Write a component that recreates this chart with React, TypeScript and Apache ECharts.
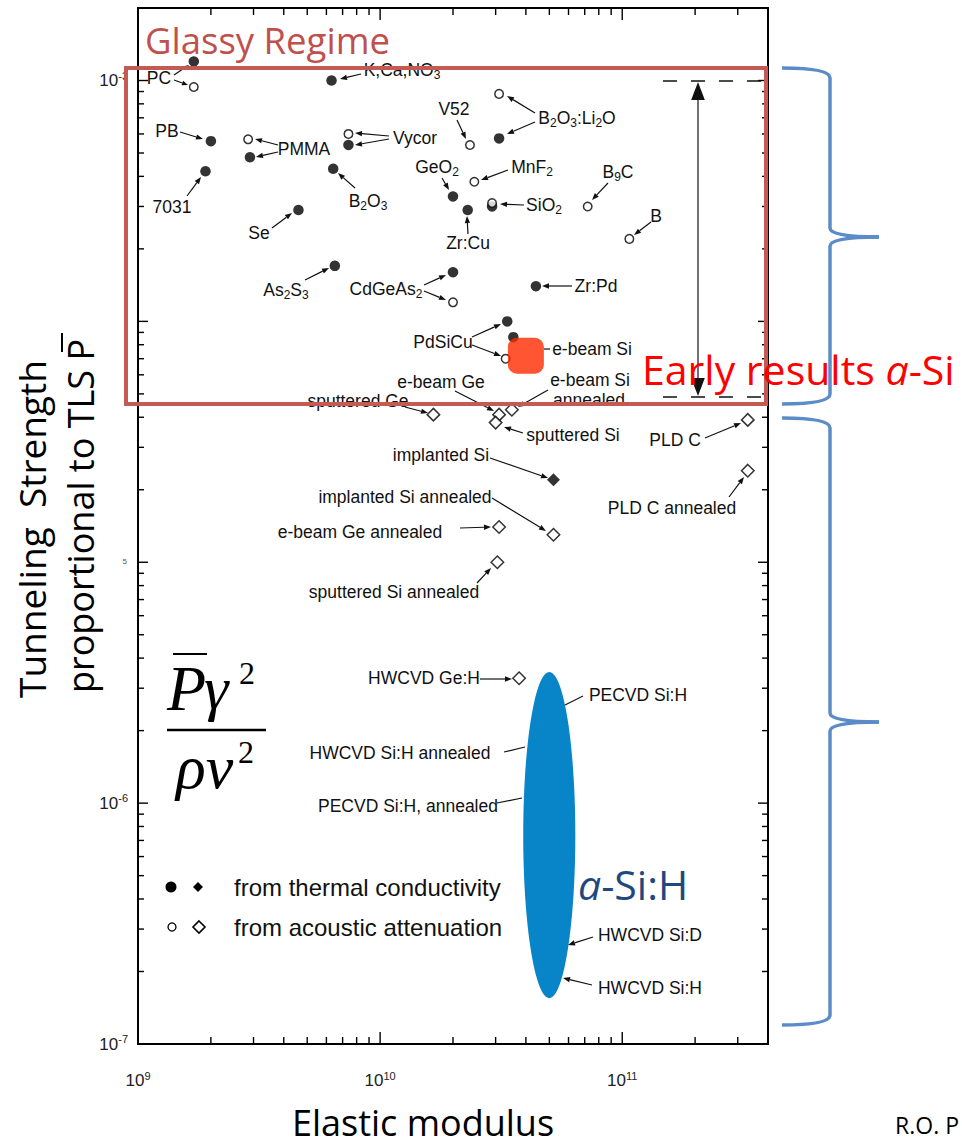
import React, { useEffect, useRef } from "react";
import * as echarts from "echarts";

// ---------------- data (elastic modulus [Pa], tunneling strength) ----------------
const thermalCircles: [number, number][] = [
  [1.7e9, 1.2e-3], // PC
  [6.3e9, 1.0e-3], // K,Ca,NO3
  [2.0e9, 5.6e-4], // PB
  [2.9e9, 4.8e-4], // PMMA
  [1.9e9, 4.2e-4], // 7031
  [7.4e9, 5.4e-4], // Vycor
  [6.4e9, 4.3e-4], // B2O3
  [4.6e9, 2.9e-4], // Se
  [3.1e10, 5.75e-4], // B2O3:Li2O
  [2.0e10, 3.3e-4], // GeO2
  [2.3e10, 2.9e-4], // Zr:Cu
  [2.9e10, 3.0e-4], // SiO2
  [4.4e10, 1.4e-4], // Zr:Pd
  [2.0e10, 1.6e-4], // CdGeAs2
  [6.5e9, 1.7e-4], // As2S3
  [3.35e10, 1.0e-4], // PdSiCu
  [3.55e10, 8.6e-5], // e-beam Si
];
const acousticCircles: [number, number][] = [
  [1.7e9, 9.4e-4], // PC
  [2.85e9, 5.7e-4], // PMMA
  [7.4e9, 6.0e-4], // Vycor
  [3.1e10, 8.8e-4], // B2O3:Li2O
  [2.35e10, 5.4e-4], // V52
  [2.45e10, 3.8e-4], // MnF2
  [2.9e10, 3.1e-4], // SiO2
  [7.2e10, 3.0e-4], // B9C
  [1.07e11, 2.2e-4], // B
  [2.0e10, 1.2e-4], // CdGeAs2
  [3.3e10, 7.0e-5], // PdSiCu
];
const thermalDiamonds: [number, number][] = [
  [5.2e10, 2.2e-5], // implanted Si
];
const acousticDiamonds: [number, number][] = [
  [1.66e10, 4.1e-5], // sputtered Ge
  [3.1e10, 4.1e-5], // e-beam Ge
  [3.5e10, 4.3e-5], // e-beam Si annealed
  [3.0e10, 3.8e-5], // sputtered Si
  [3.3e11, 3.9e-5], // PLD C
  [3.3e11, 2.4e-5], // PLD C annealed
  [5.2e10, 1.3e-5], // implanted Si annealed
  [3.1e10, 1.4e-5], // e-beam Ge annealed
  [3.05e10, 1.0e-5], // sputtered Si annealed
  [3.75e10, 3.3e-6], // HWCVD Ge:H
];
const earlyASi: [number, number][] = [[4.0e10, 7.2e-5]];
// a-Si:H region: [xMin, xMax, yMin, yMax]
const aSiHRegion: [number, number, number, number][] = [[3.9e10, 6.4e10, 1.55e-7, 3.5e-6]];

const X_MIN = 1e9;
const X_MAX = 4e11;
const Y_MIN = 1e-7;
const Y_MAX = 2e-3;
const xDecades = [1e9, 1e10, 1e11];
const yDecades = [1e-7, 1e-6, 1e-5, 1e-4, 1e-3];
const minorSteps = [2, 3, 4, 5, 6, 7, 8, 9];
const yLabelExponents = [-3, -6, -7];
const xLabelExponents = [9, 10, 11];

// ---------------- annotation layout (pixels) ----------------
const SANS = '"Liberation Sans", Arial, Helvetica, sans-serif';
const SLIDE = '"Open Sans", Lato, sans-serif';
const SERIF = '"Liberation Serif", "Times New Roman", serif';
const LABEL_SIZE = 17.5;

type Lab = { t: string; x: number; y: number };
const pointLabels: Lab[] = [
  { t: "PC", x: 159, y: 78 },
  { t: "K,Ca,NO{s|3}", x: 402, y: 70 },
  { t: "PB", x: 167, y: 131 },
  { t: "PMMA", x: 304, y: 149 },
  { t: "7031", x: 172, y: 207 },
  { t: "Vycor", x: 415, y: 138 },
  { t: "B{s|2}O{s|3}", x: 368, y: 201 },
  { t: "Se", x: 259, y: 233 },
  { t: "V52", x: 454, y: 109 },
  { t: "B{s|2}O{s|3}:Li{s|2}O", x: 577, y: 118 },
  { t: "GeO{s|2}", x: 437, y: 167 },
  { t: "MnF{s|2}", x: 532, y: 167 },
  { t: "SiO{s|2}", x: 544, y: 205 },
  { t: "B{s|9}C", x: 618, y: 172 },
  { t: "Zr:Cu", x: 468, y: 243 },
  { t: "B", x: 656, y: 216 },
  { t: "Zr:Pd", x: 596, y: 286 },
  { t: "CdGeAs{s|2}", x: 386, y: 289 },
  { t: "As{s|2}S{s|3}", x: 286, y: 290 },
  { t: "PdSiCu", x: 443, y: 342 },
  { t: "e-beam Si", x: 592, y: 349 },
  { t: "e-beam Ge", x: 441, y: 382 },
  { t: "e-beam Si", x: 590, y: 380 },
  { t: "annealed", x: 589, y: 400 },
  { t: "sputtered Ge", x: 358, y: 401 },
  { t: "sputtered Si", x: 573, y: 435 },
  { t: "PLD C", x: 675, y: 440 },
  { t: "PLD C annealed", x: 672, y: 508 },
  { t: "implanted Si", x: 441, y: 455 },
  { t: "implanted Si annealed", x: 405, y: 497 },
  { t: "e-beam Ge annealed", x: 360, y: 532 },
  { t: "sputtered Si annealed", x: 394, y: 592 },
  { t: "HWCVD Ge:H", x: 424, y: 678 },
  { t: "PECVD Si:H", x: 638, y: 695 },
  { t: "HWCVD Si:H annealed", x: 400, y: 753 },
  { t: "PECVD Si:H, annealed", x: 408, y: 806 },
  { t: "HWCVD Si:D", x: 650, y: 935 },
  { t: "HWCVD Si:H", x: 650, y: 988 },
];
// [x1, y1, x2, y2, headLength]
const pointerLines: number[][] = [
  [174, 80, 188, 85, 6], [174, 75, 189, 65, 6],
  [361, 74, 340, 79, 7],
  [180, 132, 203, 139, 7],
  [278, 145, 255, 139, 7], [278, 152, 256, 157, 7],
  [187, 196, 201, 177, 7],
  [389, 136, 355, 133, 7], [389, 139, 355, 145, 7],
  [355, 188, 338, 173, 7],
  [272, 228, 292, 213, 7],
  [457, 120, 466, 139, 7],
  [535, 113, 507, 96, 7], [535, 122, 507, 134, 7],
  [442, 178, 449, 190, 7],
  [508, 170, 481, 180, 7],
  [524, 205, 500, 204, 7],
  [608, 183, 592, 200, 7],
  [468, 234, 467, 216, 7],
  [651, 222, 634, 235, 7],
  [572, 286, 542, 286, 7],
  [424, 285, 446, 275, 7], [424, 291, 446, 300, 7],
  [305, 280, 329, 268, 7],
  [472, 337, 501, 324, 7], [472, 345, 501, 356, 7],
  [544, 349, 550, 349, 0],
  [455, 391, 494, 411, 7],
  [548, 390, 518, 407, 7],
  [405, 407, 428, 413, 7],
  [523, 433, 504, 427, 7],
  [705, 438, 741, 423, 7],
  [729, 497, 744, 477, 7],
  [490, 458, 548, 478, 7],
  [492, 498, 546, 531, 7],
  [460, 528, 491, 527, 7],
  [477, 583, 491, 568, 7],
  [480, 679, 512, 679, 7],
  [583, 696, 565, 705, 0],
  [504, 752, 525, 747, 0],
  [497, 803, 522, 798, 0],
  [593, 937, 568, 945, 7],
  [592, 985, 563, 978, 7],
];

function arrowEls(x1: number, y1: number, x2: number, y2: number, head: number, color = "#111", lw = 1.2) {
  const ang = Math.atan2(y2 - y1, x2 - x1);
  if (!head) {
    return [{ type: "line", z: 50, shape: { x1, y1, x2, y2 }, style: { stroke: color, lineWidth: lw } }];
  }
  const hx = x2 - head * Math.cos(ang);
  const hy = y2 - head * Math.sin(ang);
  const w = head * 0.38;
  const px = -Math.sin(ang) * w;
  const py = Math.cos(ang) * w;
  return [
    { type: "line", z: 50, shape: { x1, y1, x2: hx, y2: hy }, style: { stroke: color, lineWidth: lw } },
    { type: "polygon", z: 50, shape: { points: [[x2, y2], [hx + px, hy + py], [hx - px, hy - py]] }, style: { fill: color } },
  ];
}

function txt(text: string, x: number, y: number, o: any = {}) {
  const align = o.align || "center";
  const va = o.va || "middle";
  const style: any = {
    text,
    fill: o.fill || "#111",
    fontSize: o.fontSize || LABEL_SIZE,
    fontFamily: o.fontFamily || SANS,
    fontStyle: o.fontStyle || "normal",
    align,
    verticalAlign: va,
    textAlign: align,
    textVerticalAlign: va,
    rich: o.rich,
  };
  if (o.lineHeight) style.lineHeight = o.lineHeight;
  return { type: "text", z: o.z ?? 60, x, y, rotation: o.rotation || 0, style };
}

function braceEls(top: number, tip: number, bottom: number) {
  const xl = 782;
  const xv = 830;
  const xt = 879;
  const st = { stroke: "#5b8cc8", lineWidth: 3.5, fill: "none" };
  return [
    { type: "bezierCurve", z: 70, shape: { x1: xl, y1: top, cpx1: xv, cpy1: top, x2: xv, y2: top + 10 }, style: st },
    { type: "line", z: 70, shape: { x1: xv, y1: top + 10, x2: xv, y2: tip - 9 }, style: st },
    { type: "bezierCurve", z: 70, shape: { x1: xv, y1: tip - 9, cpx1: xv, cpy1: tip, x2: xt, y2: tip }, style: st },
    { type: "bezierCurve", z: 70, shape: { x1: xt, y1: tip, cpx1: xv, cpy1: tip, x2: xv, y2: tip + 9 }, style: st },
    { type: "line", z: 70, shape: { x1: xv, y1: tip + 9, x2: xv, y2: bottom - 10 }, style: st },
    { type: "bezierCurve", z: 70, shape: { x1: xv, y1: bottom - 10, cpx1: xv, cpy1: bottom, x2: xl, y2: bottom }, style: st },
  ];
}

const subRich = {
  s: { fontSize: 12, fontFamily: SANS, fill: "#111", padding: [10, 0, 0, 0] },
};

export default function App() {
  const ref = useRef<HTMLDivElement>(null);

  useEffect(() => {
    if (!ref.current) return;
    const chart = echarts.init(ref.current, null, { renderer: "svg" });

    const tickData: number[][] = [];
    xDecades.forEach((d) => {
      tickData.push([d, Y_MIN, 0]);
      minorSteps.forEach((m) => {
        if (d * m < X_MAX * 0.999) tickData.push([d * m, Y_MIN, 1]);
      });
    });
    yDecades.forEach((d) => {
      tickData.push([X_MIN, d, 2]);
      minorSteps.forEach((m) => {
        if (d * m < Y_MAX * 0.999) tickData.push([X_MIN, d * m, 3]);
      });
    });

    const supRich = {
      b: { fontSize: 17, fontFamily: SANS, color: "#222" },
      s: { fontSize: 11, fontFamily: SANS, color: "#222", padding: [0, 0, 10, 0] },
    };

    const graphics: any[] = [];
    pointLabels.forEach((l) => graphics.push(txt(l.t, l.x, l.y, { rich: subRich })));
    pointerLines.forEach((a) => graphics.push(...arrowEls(a[0], a[1], a[2], a[3], a[4])));

    // glassy range: dashed limits and double arrow
    graphics.push({ type: "line", z: 50, shape: { x1: 663, y1: 81, x2: 766, y2: 81 }, style: { stroke: "#111", lineWidth: 1.5, lineDash: [14, 14] } });
    graphics.push({ type: "line", z: 50, shape: { x1: 663, y1: 397, x2: 766, y2: 397 }, style: { stroke: "#111", lineWidth: 1.5, lineDash: [14, 14] } });
    graphics.push(...arrowEls(698, 240, 698, 82, 18, "#111", 1.2));
    graphics.push(...arrowEls(698, 240, 698, 396, 18, "#111", 1.2));

    // red glassy regime box
    graphics.push({ type: "rect", z: 80, shape: { x: 126, y: 68, width: 640, height: 336 }, style: { stroke: "#c55a55", lineWidth: 4, fill: "none" } });
    graphics.push(txt("Glassy Regime", 145, 40, { align: "left", fontSize: 36.5, lineHeight: 32, fontFamily: SLIDE, fill: "#c0504d", z: 80 }));
    graphics.push(
      txt("Early results {i|a}-Si", 642, 369, {
        align: "left",
        fontSize: 41,
        fontFamily: SLIDE,
        fill: "#ff0000",
        z: 80,
        rich: { i: { fontSize: 41, fontFamily: SLIDE, fontStyle: "italic", fill: "#ff0000" } },
      })
    );

    // a-Si:H label
    graphics.push(
      txt("{i|a}-Si:H", 578, 884, {
        align: "left",
        fontSize: 41,
        fontFamily: SLIDE,
        fill: "#1f497d",
        z: 80,
        rich: { i: { fontSize: 41, fontFamily: SLIDE, fontStyle: "italic", fill: "#1f497d" } },
      })
    );

    // braces
    graphics.push(...braceEls(68, 237, 404));
    graphics.push(...braceEls(418, 722, 1025));

    // legend
    graphics.push({ type: "circle", z: 60, shape: { cx: 171, cy: 887, r: 5.5 }, style: { fill: "#000" } });
    graphics.push({ type: "polygon", z: 60, shape: { points: [[198, 882], [203, 887], [198, 892], [193, 887]] }, style: { fill: "#000" } });
    graphics.push(txt("from thermal conductivity", 234, 887, { align: "left", fontSize: 24 }));
    graphics.push({ type: "circle", z: 60, shape: { cx: 172, cy: 927, r: 4 }, style: { fill: "#fff", stroke: "#000", lineWidth: 1.3 } });
    graphics.push({ type: "polygon", z: 60, shape: { points: [[199, 921], [205, 927], [199, 933], [193, 927]] }, style: { fill: "#fff", stroke: "#000", lineWidth: 1.6 } });
    graphics.push(txt("from acoustic attenuation", 234, 927, { align: "left", fontSize: 24 }));

    // formula  P̄γ² / ρv²
    graphics.push({ type: "line", z: 60, shape: { x1: 173, y1: 654, x2: 207, y2: 654 }, style: { stroke: "#000", lineWidth: 1.8 } });
    graphics.push(txt("P", 167, 688, { align: "left", fontSize: 64, fontFamily: SERIF, fontStyle: "italic", fill: "#000" }));
    graphics.push(txt("γ", 204, 688, { align: "left", fontSize: 62, fontFamily: SERIF, fontStyle: "italic", fill: "#000" }));
    graphics.push(txt("2", 239, 673, { align: "left", fontSize: 32, fontFamily: SERIF, fill: "#000" }));
    graphics.push({ type: "line", z: 60, shape: { x1: 167, y1: 730, x2: 266, y2: 730 }, style: { stroke: "#000", lineWidth: 2.4 } });
    graphics.push(txt("ρv", 176, 767, { align: "left", fontSize: 62, fontFamily: SERIF, fontStyle: "italic", fill: "#000" }));
    graphics.push(txt("2", 238, 752, { align: "left", fontSize: 32, fontFamily: SERIF, fill: "#000" }));

    // axis titles
    graphics.push(txt("Tunneling  Strength", 31, 529, { fontSize: 37, fontFamily: SLIDE, fill: "#000", rotation: Math.PI / 2 }));
    graphics.push(txt("proportional to TLS P", 80, 516, { fontSize: 36, fontFamily: SLIDE, fill: "#000", rotation: Math.PI / 2 }));
    graphics.push({ type: "line", z: 60, shape: { x1: 62, y1: 333, x2: 62, y2: 352 }, style: { stroke: "#000", lineWidth: 2 } });
    graphics.push(txt("Elastic modulus", 423, 1122, { fontSize: 36, fontFamily: SLIDE, fill: "#000" }));
    graphics.push(txt("5", 127, 561, { fontSize: 8, fill: "#555", align: "right" }));
    graphics.push(txt("R.O. P", 895, 1125, { align: "left", fontSize: 23, fontFamily: SLIDE, fill: "#000" }));

    const option: any = {
      animation: false,
      backgroundColor: "#fff",
      grid: {
        left: 138,
        right: 194,
        top: 8,
        bottom: 103,
        show: true,
        borderColor: "#000",
        borderWidth: 2,
        backgroundColor: "transparent",
        containLabel: false,
      },
      xAxis: {
        type: "log",
        logBase: 10,
        min: X_MIN,
        max: X_MAX,
        axisLine: { show: false },
        axisTick: { show: false },
        splitLine: { show: false },
        axisLabel: {
          margin: 26,
          formatter: (v: number) => {
            const e = Math.round(Math.log10(v));
            if (Math.abs(Math.log10(v) - e) > 1e-6 || !xLabelExponents.includes(e)) return "";
            return `{b|10}{s|${e}}`;
          },
          rich: supRich,
        },
      },
      yAxis: {
        type: "log",
        logBase: 10,
        min: Y_MIN,
        max: Y_MAX,
        axisLine: { show: false },
        axisTick: { show: false },
        splitLine: { show: false },
        axisLabel: {
          margin: 10,
          formatter: (v: number) => {
            const e = Math.round(Math.log10(v));
            if (Math.abs(Math.log10(v) - e) > 1e-6 || !yLabelExponents.includes(e)) return "";
            return `{b|10}{s|${e}}`;
          },
          rich: supRich,
        },
      },
      series: [
        {
          type: "custom",
          name: "ticks",
          data: tickData,
          encode: { x: 0, y: 1 },
          silent: true,
          z: 5,
          renderItem: (params: any, api: any) => {
            const cs = params.coordSys;
            const kind = api.value(2);
            const p = api.coord([api.value(0), api.value(1)]);
            const st = { stroke: "#000", lineWidth: 1.4 };
            if (kind < 2) {
              const len = kind === 0 ? 12 : 7;
              const x = p[0];
              const b = cs.y + cs.height;
              const t = cs.y;
              return {
                type: "group",
                children: [
                  { type: "line", shape: { x1: x, y1: b, x2: x, y2: b - len }, style: st },
                  { type: "line", shape: { x1: x, y1: t, x2: x, y2: t + len }, style: st },
                ],
              };
            }
            const len = kind === 2 ? 10 : 6;
            const y = p[1];
            const l = cs.x;
            const r = cs.x + cs.width;
            return {
              type: "group",
              children: [
                { type: "line", shape: { x1: l, y1: y, x2: l + len, y2: y }, style: st },
                { type: "line", shape: { x1: r, y1: y, x2: r - len, y2: y }, style: st },
              ],
            };
          },
        },
        {
          type: "custom",
          name: "a-Si:H",
          data: aSiHRegion,
          encode: { x: [0, 1], y: [2, 3] },
          z: 3,
          renderItem: (_params: any, api: any) => {
            const a = api.coord([api.value(0), api.value(3)]);
            const b = api.coord([api.value(1), api.value(2)]);
            return {
              type: "ellipse",
              shape: { cx: (a[0] + b[0]) / 2, cy: (a[1] + b[1]) / 2, rx: (b[0] - a[0]) / 2, ry: (b[1] - a[1]) / 2 },
              style: { fill: "#0884c8" },
            };
          },
        },
        {
          type: "scatter",
          name: "thermal conductivity",
          data: thermalCircles,
          symbol: "circle",
          symbolSize: 10.5,
          itemStyle: { color: "#000" },
          z: 4,
        },
        {
          type: "scatter",
          name: "acoustic attenuation",
          data: acousticCircles,
          symbol: "circle",
          symbolSize: 8.5,
          itemStyle: { color: "#fff", borderColor: "#000", borderWidth: 1.5 },
          z: 4,
        },
        {
          type: "scatter",
          name: "thermal conductivity (diamond)",
          data: thermalDiamonds,
          symbol: "diamond",
          symbolSize: 13,
          itemStyle: { color: "#000" },
          z: 4,
        },
        {
          type: "scatter",
          name: "acoustic attenuation (diamond)",
          data: acousticDiamonds,
          symbol: "diamond",
          symbolSize: 12.5,
          itemStyle: { color: "#fff", borderColor: "#000", borderWidth: 1.5 },
          z: 4,
        },
        {
          type: "scatter",
          name: "Early results a-Si",
          data: earlyASi,
          symbol: "roundRect",
          symbolSize: 36,
          itemStyle: { color: "#ff2a00" },
          z: 6,
        },
      ],
      graphic: { elements: graphics },
    };

    chart.setOption(option);
    return () => chart.dispose();
  }, []);

  return (
    <div
      ref={ref}
      style={{ position: "fixed", left: 0, top: 0, width: 962, height: 1147, background: "#fff", overflow: "hidden" }}
    />
  );
}
